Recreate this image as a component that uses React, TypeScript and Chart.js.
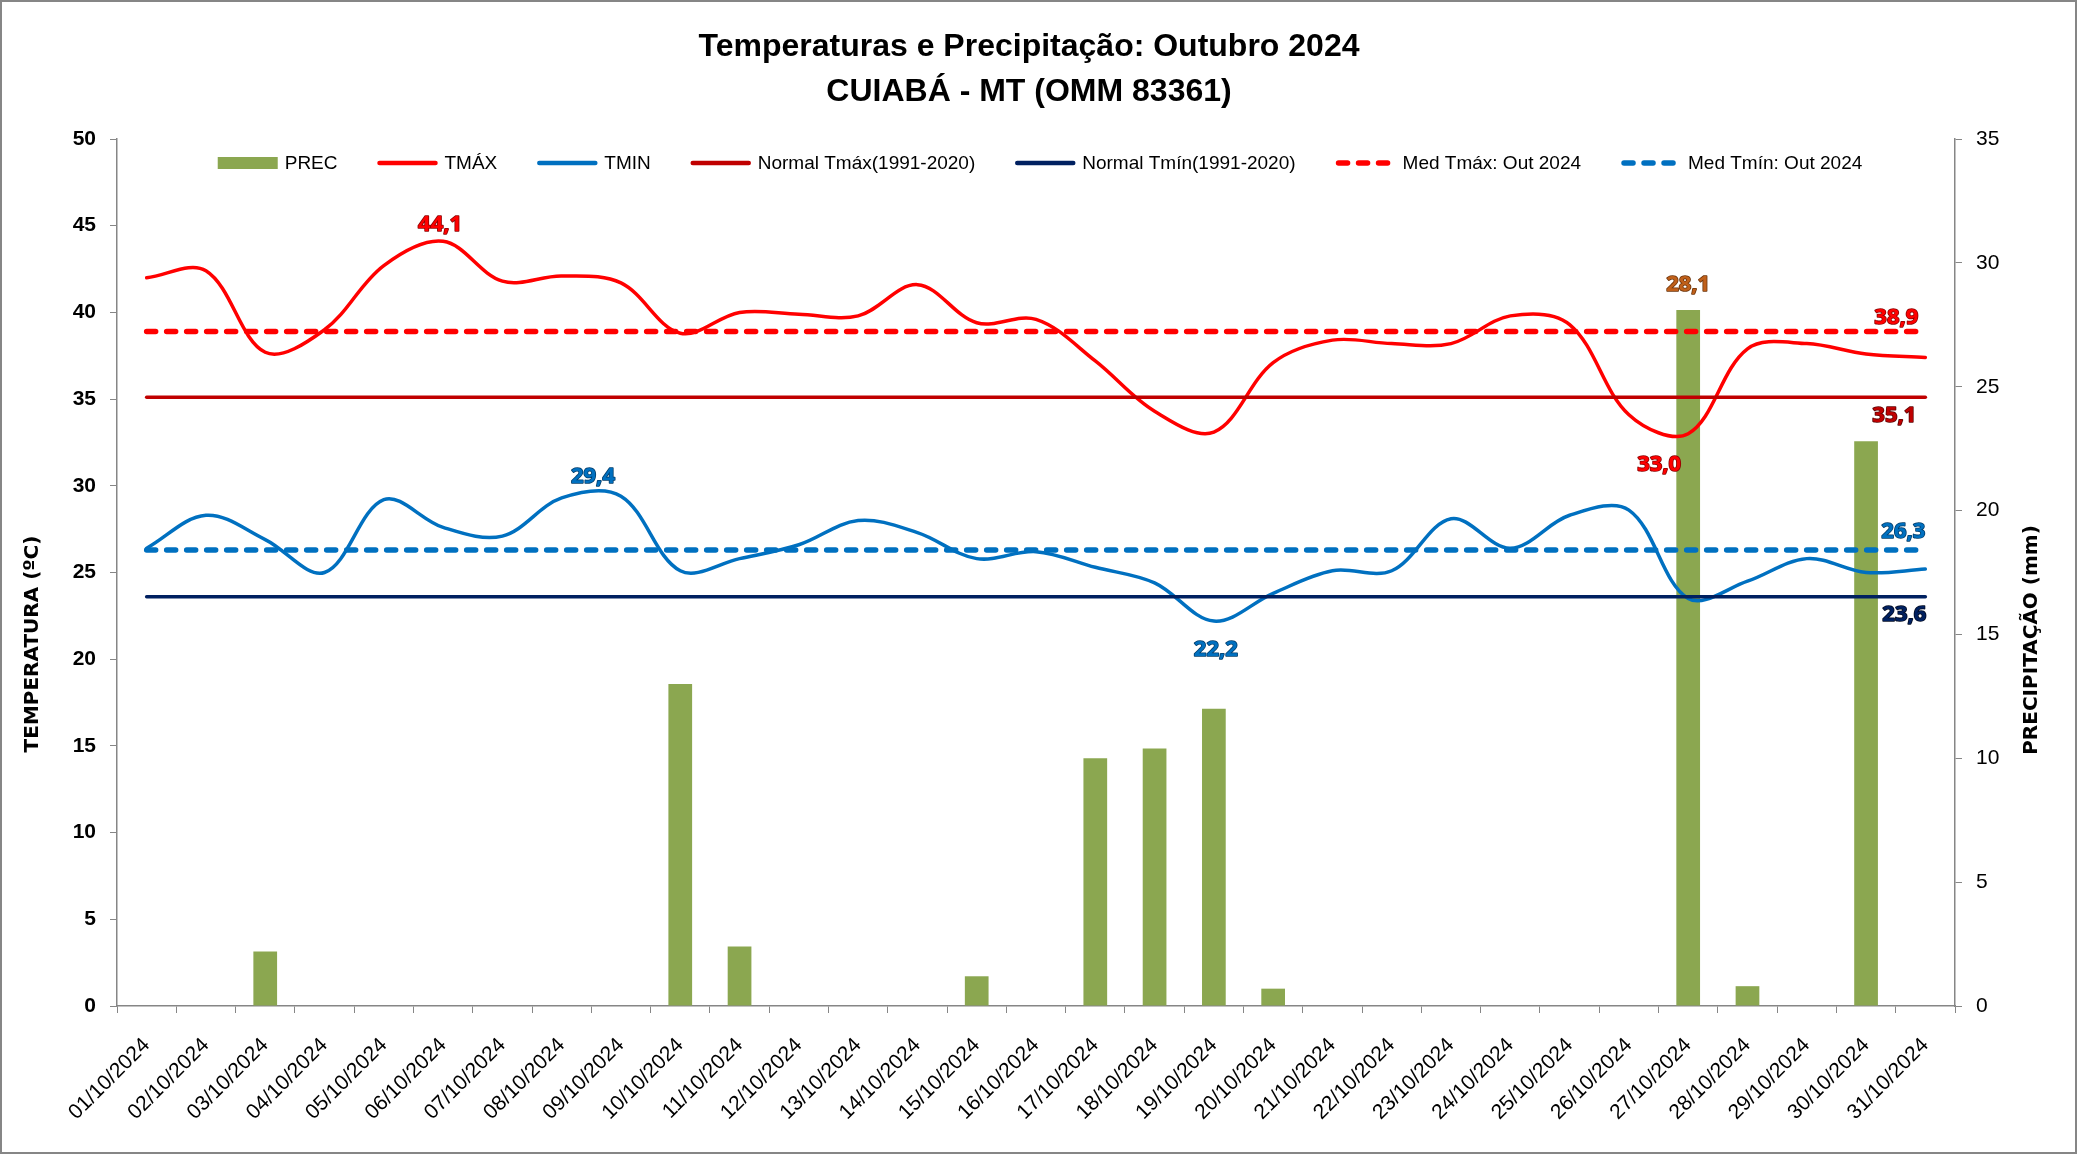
import React, { useEffect, useRef } from 'react';
import { Chart, registerables } from 'chart.js';

Chart.register(...registerables);

const W = 2077;
const H = 1154;

const TITLE_LINE_1 = 'Temperaturas e Precipitação: Outubro 2024';
const TITLE_LINE_2 = 'CUIABÁ - MT (OMM 83361)';
const Y_TITLE_LEFT = 'TEMPERATURA (ºC)';
const Y_TITLE_RIGHT = 'PRECIPITAÇÃO (mm)';

const DATES = [
  '01/10/2024', '02/10/2024', '03/10/2024', '04/10/2024', '05/10/2024', '06/10/2024', '07/10/2024',
  '08/10/2024', '09/10/2024', '10/10/2024', '11/10/2024', '12/10/2024', '13/10/2024', '14/10/2024',
  '15/10/2024', '16/10/2024', '17/10/2024', '18/10/2024', '19/10/2024', '20/10/2024', '21/10/2024',
  '22/10/2024', '23/10/2024', '24/10/2024', '25/10/2024', '26/10/2024', '27/10/2024', '28/10/2024',
  '29/10/2024', '30/10/2024', '31/10/2024',
];

const PREC = [0, 0, 2.2, 0, 0, 0, 0, 0, 0, 13.0, 2.4, 0, 0, 0, 1.2, 0, 10.0, 10.4, 12.0, 0.7, 0, 0, 0, 0, 0, 0, 28.1, 0.8, 0, 22.8, 0];

const TMAX = [42.0, 42.4, 37.7, 39.0, 42.7, 44.1, 41.8, 42.1, 41.7, 38.8, 40.0, 39.9, 39.8, 41.6, 39.4, 39.6, 37.2, 34.3, 33.1, 37.1, 38.4, 38.2, 38.2, 39.8, 39.3, 34.1, 33.0, 37.9, 38.2, 37.6, 37.4];

const TMIN = [26.4, 28.3, 26.9, 25.0, 29.2, 27.6, 27.1, 29.3, 29.4, 25.1, 25.8, 26.6, 28.0, 27.3, 25.8, 26.2, 25.3, 24.4, 22.2, 23.8, 25.1, 25.1, 28.1, 26.4, 28.3, 28.6, 23.5, 24.5, 25.8, 25.0, 25.2];

const NORMAL_TMAX = [35.1, 35.1, 35.1, 35.1, 35.1, 35.1, 35.1, 35.1, 35.1, 35.1, 35.1, 35.1, 35.1, 35.1, 35.1, 35.1, 35.1, 35.1, 35.1, 35.1, 35.1, 35.1, 35.1, 35.1, 35.1, 35.1, 35.1, 35.1, 35.1, 35.1, 35.1];
const NORMAL_TMIN = [23.6, 23.6, 23.6, 23.6, 23.6, 23.6, 23.6, 23.6, 23.6, 23.6, 23.6, 23.6, 23.6, 23.6, 23.6, 23.6, 23.6, 23.6, 23.6, 23.6, 23.6, 23.6, 23.6, 23.6, 23.6, 23.6, 23.6, 23.6, 23.6, 23.6, 23.6];
const MED_TMAX = [38.9, 38.9, 38.9, 38.9, 38.9, 38.9, 38.9, 38.9, 38.9, 38.9, 38.9, 38.9, 38.9, 38.9, 38.9, 38.9, 38.9, 38.9, 38.9, 38.9, 38.9, 38.9, 38.9, 38.9, 38.9, 38.9, 38.9, 38.9, 38.9, 38.9, 38.9];
const MED_TMIN = [26.3, 26.3, 26.3, 26.3, 26.3, 26.3, 26.3, 26.3, 26.3, 26.3, 26.3, 26.3, 26.3, 26.3, 26.3, 26.3, 26.3, 26.3, 26.3, 26.3, 26.3, 26.3, 26.3, 26.3, 26.3, 26.3, 26.3, 26.3, 26.3, 26.3, 26.3];

const SERIES_NAMES = ['PREC', 'TMÁX', 'TMIN', 'Normal Tmáx(1991-2020)', 'Normal Tmín(1991-2020)', 'Med Tmáx: Out 2024', 'Med Tmín: Out 2024'];

const LEFT_TICKS = { min: 0, max: 50, step: 5 };
const RIGHT_TICKS = { min: 0, max: 35, step: 5 };

// styles
const C_PREC = '#8BA750';
const C_TMAX = '#FF0000';
const C_TMIN = '#0070C0';
const C_NTMAX = '#C00000';
const C_NTMIN = '#002060';
const C_PREC_LABEL = '#C0601A';
const AXIS_GRAY = '#868686';
const DASH = [9, 11];

const fmt = (v: number) => v.toFixed(1).replace('.', ',');
const argMax = (a: number[]) => a.reduce((b, v, i) => (v >= a[b] ? i : b), 0);
const argMin = (a: number[]) => a.reduce((b, v, i) => (v < a[b] ? i : b), 0);

const LABEL_FONT = 'bold 22px "Noto Sans", "DejaVu Sans", sans-serif';

const overlayPlugin = {
  id: 'overlay',
  beforeDraw(chart: any) {
    const ctx = chart.ctx;
    ctx.save();
    ctx.fillStyle = '#ffffff';
    ctx.fillRect(0, 0, W, H);
    ctx.restore();
  },
  afterDatasetsDraw(chart: any) {
    const ctx = chart.ctx;
    const last = DATES.length - 1;
    const pt = (ds: number, i: number) => chart.getDatasetMeta(ds).data[i];
    const specs = [
      { ds: 1, i: argMax(TMAX), v: TMAX[argMax(TMAX)], dx: -3, dy: -17, c: C_TMAX, o: '#8a0000' },
      { ds: 1, i: argMin(TMAX), v: TMAX[argMin(TMAX)], dx: -29, dy: 31, c: C_TMAX, o: '#8a0000' },
      { ds: 2, i: argMax(TMIN), v: TMIN[argMax(TMIN)], dx: -28, dy: -19, c: C_TMIN, o: '#003c6a' },
      { ds: 2, i: argMin(TMIN), v: TMIN[argMin(TMIN)], dx: 2, dy: 29, c: C_TMIN, o: '#003c6a' },
      { ds: 0, i: argMax(PREC), v: PREC[argMax(PREC)], dx: 0, dy: -25, c: C_PREC_LABEL, o: '#6b3208' },
      { ds: 5, i: last, v: MED_TMAX[last], dx: -29, dy: -14, c: C_TMAX, o: '#8a0000' },
      { ds: 3, i: last, v: NORMAL_TMAX[last], dx: -31, dy: 18, c: C_NTMAX, o: '#5a0000' },
      { ds: 6, i: last, v: MED_TMIN[last], dx: -22, dy: -18, c: C_TMIN, o: '#003c6a' },
      { ds: 4, i: last, v: NORMAL_TMIN[last], dx: -21, dy: 18, c: C_NTMIN, o: '#000a20' },
    ];
    ctx.save();
    ctx.font = LABEL_FONT;
    ctx.textAlign = 'center';
    ctx.textBaseline = 'middle';
    specs.forEach((s) => {
      const p = pt(s.ds, s.i);
      if (!p) return;
      const x = p.x + s.dx;
      const y = p.y + s.dy;
      const t = fmt(s.v);
      ctx.lineWidth = 1.6;
      ctx.strokeStyle = s.o;
      ctx.lineJoin = 'round';
      ctx.strokeText(t, x, y);
      ctx.fillStyle = s.c;
      ctx.fillText(t, x, y);
    });
    ctx.restore();
  },
  afterDraw(chart: any) {
    const ctx = chart.ctx;
    ctx.save();
    // outer border
    ctx.strokeStyle = AXIS_GRAY;
    ctx.lineWidth = 2;
    ctx.strokeRect(1, 1, W - 2, H - 2);

    // titles
    ctx.fillStyle = '#000';
    ctx.textAlign = 'center';
    ctx.textBaseline = 'middle';
    ctx.font = 'bold 32px "Liberation Sans", Arial, sans-serif';
    ctx.fillText(TITLE_LINE_1, 1029, 47);
    ctx.fillText(TITLE_LINE_2, 1029, 92);

    // axis titles
    ctx.font = 'bold 20px "DejaVu Sans", sans-serif';
    ctx.save();
    ctx.translate(33, 644);
    ctx.rotate(-Math.PI / 2);
    ctx.fillText(Y_TITLE_LEFT, 0, 0);
    ctx.restore();
    ctx.save();
    ctx.translate(2032, 640);
    ctx.rotate(-Math.PI / 2);
    ctx.fillText(Y_TITLE_RIGHT, 0, 0);
    ctx.restore();

    // legend
    const ds = chart.data.datasets;
    ctx.font = '19px "Liberation Sans", Arial, sans-serif';
    const symW = 60;
    const symGap = 7;
    const itemGap = 40;
    const widths = ds.map((d: any) => symW + symGap + ctx.measureText(d.label).width);
    const total = widths.reduce((a: number, b: number) => a + b, 0) + itemGap * (ds.length - 1);
    let x = 1040 - total / 2;
    const ly = 163;
    ds.forEach((d: any, k: number) => {
      if (d.type === 'bar') {
        ctx.fillStyle = d.backgroundColor;
        ctx.fillRect(x, ly - 6, symW, 12);
      } else {
        ctx.save();
        ctx.strokeStyle = d.borderColor;
        ctx.lineCap = 'round';
        if (d.borderDash && d.borderDash.length) {
          ctx.lineWidth = 5.5;
          ctx.setLineDash(d.borderDash);
          ctx.beginPath();
          ctx.moveTo(x + 3, ly);
          ctx.lineTo(x + symW - 2, ly);
          ctx.stroke();
        } else {
          ctx.lineWidth = 4.5;
          ctx.beginPath();
          ctx.moveTo(x + 2, ly);
          ctx.lineTo(x + symW - 2, ly);
          ctx.stroke();
        }
        ctx.restore();
      }
      ctx.fillStyle = '#000';
      ctx.textAlign = 'left';
      ctx.textBaseline = 'middle';
      ctx.fillText(d.label, x + symW + symGap, ly + 1);
      x += widths[k] + itemGap;
    });
    ctx.restore();
  },
};

export default function App() {
  const ref = useRef<HTMLCanvasElement | null>(null);

  useEffect(() => {
    const canvas = ref.current;
    if (!canvas) return;
    const lineBase = {
      type: 'line' as const,
      pointRadius: 0,
      pointHoverRadius: 0,
      fill: false,
      yAxisID: 'y',
      borderCapStyle: 'round' as const,
      borderJoinStyle: 'round' as const,
    };
    const chart = new Chart(canvas, {
      type: 'bar',
      data: {
        labels: DATES,
        datasets: [
          {
            type: 'bar',
            label: SERIES_NAMES[0],
            data: PREC,
            backgroundColor: C_PREC,
            yAxisID: 'y1',
            barPercentage: 0.4,
            categoryPercentage: 1,
            order: 7,
          },
          { ...lineBase, label: SERIES_NAMES[1], data: TMAX, borderColor: C_TMAX, borderWidth: 3.5, tension: 0.35, order: 6 },
          { ...lineBase, label: SERIES_NAMES[2], data: TMIN, borderColor: C_TMIN, borderWidth: 3.5, tension: 0.35, order: 5 },
          { ...lineBase, label: SERIES_NAMES[3], data: NORMAL_TMAX, borderColor: C_NTMAX, borderWidth: 3.5, tension: 0, order: 4 },
          { ...lineBase, label: SERIES_NAMES[4], data: NORMAL_TMIN, borderColor: C_NTMIN, borderWidth: 3.5, tension: 0, order: 3 },
          { ...lineBase, label: SERIES_NAMES[5], data: MED_TMAX, borderColor: C_TMAX, borderWidth: 5.5, borderDash: DASH, tension: 0, order: 2 },
          { ...lineBase, label: SERIES_NAMES[6], data: MED_TMIN, borderColor: C_TMIN, borderWidth: 5.5, borderDash: DASH, tension: 0, order: 1 },
        ] as any,
      },
      options: {
        responsive: false,
        maintainAspectRatio: false,
        animation: false,
        devicePixelRatio: 1,
        events: [],
        layout: { padding: { top: 139, left: 0, right: 0, bottom: 0 } },
        plugins: {
          legend: { display: false },
          title: { display: false },
          tooltip: { enabled: false },
        },
        scales: {
          x: {
            type: 'category',
            offset: true,
            grid: { offset: true, drawOnChartArea: false, drawTicks: true, tickLength: 7, color: AXIS_GRAY, lineWidth: 1 },
            border: { display: true, color: AXIS_GRAY, width: 1.5 },
            ticks: {
              autoSkip: false,
              maxRotation: 45,
              minRotation: 45,
              padding: 20,
              color: '#000',
              font: { family: '"Liberation Sans", Arial, sans-serif', size: 21 },
            },
            afterFit: (s: any) => {
              s.height = H - 1006;
            },
          },
          y: {
            type: 'linear',
            position: 'left',
            min: LEFT_TICKS.min,
            max: LEFT_TICKS.max,
            grid: { drawOnChartArea: false, drawTicks: true, tickLength: 7, color: AXIS_GRAY },
            border: { display: true, color: AXIS_GRAY, width: 1.5 },
            ticks: {
              stepSize: LEFT_TICKS.step,
              padding: 14,
              color: '#000',
              font: { family: '"Liberation Sans", Arial, sans-serif', size: 21, weight: 'bold' },
            },
            afterFit: (s: any) => {
              s.width = 117;
            },
          },
          y1: {
            type: 'linear',
            position: 'right',
            min: RIGHT_TICKS.min,
            max: RIGHT_TICKS.max,
            grid: { drawOnChartArea: false, drawTicks: true, tickLength: 7, color: AXIS_GRAY },
            border: { display: true, color: AXIS_GRAY, width: 1.5 },
            ticks: {
              stepSize: RIGHT_TICKS.step,
              padding: 14,
              color: '#000',
              font: { family: '"Liberation Sans", Arial, sans-serif', size: 21 },
            },
            afterFit: (s: any) => {
              s.width = W - 1955;
            },
          },
        },
      } as any,
      plugins: [overlayPlugin as any],
    });
    return () => chart.destroy();
  }, []);

  return (
    <div style={{ position: 'fixed', left: 0, top: 0, width: W, height: H, background: '#fff' }}>
      <canvas ref={ref} width={W} height={H} style={{ display: 'block', width: W, height: H }} />
    </div>
  );
}
